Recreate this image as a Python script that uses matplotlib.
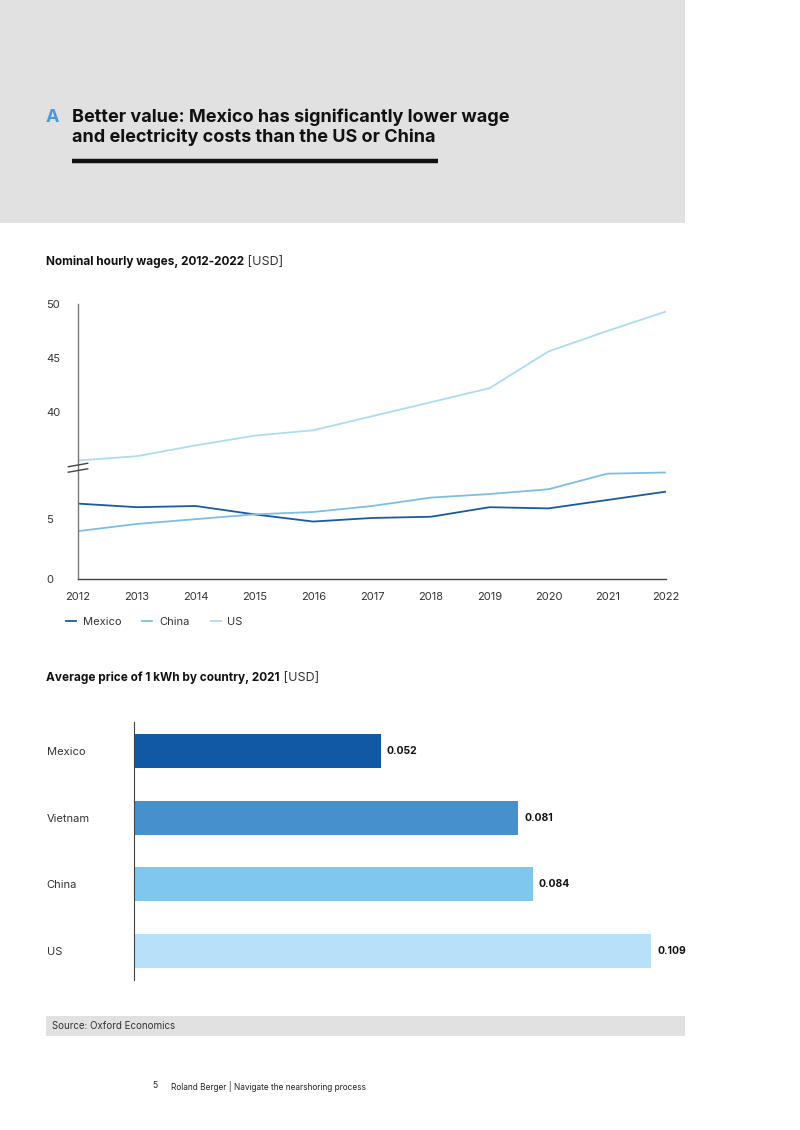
import numpy as np
import matplotlib
matplotlib.use('Agg')
import matplotlib.pyplot as plt
from matplotlib.patches import Rectangle
from matplotlib.lines import Line2D

plt.rcParams['font.family'] = ['Inter', 'DejaVu Sans']

W, H = 800, 1130

# データ: 名目時給 (USD)
years = [2012, 2013, 2014, 2015, 2016, 2017, 2018, 2019, 2020, 2021, 2022]
wage_mexico = [6.3, 6.0, 6.1, 5.4, 4.8, 5.1, 5.2, 6.0, 5.9, 6.6, 7.3]
wage_china = [4.0, 4.6, 5.0, 5.4, 5.6, 6.1, 6.8, 7.1, 7.5, 8.8, 8.9]
wage_us = [35.5, 35.9, 36.9, 37.8, 38.3, 39.6, 40.9, 42.2, 45.6, 47.5, 49.3]
wage_ticks = [0, 5, 40, 45, 50]

# データ: 1kWhあたりの平均価格 (USD, 2021)
countries = ['Mexico', 'Vietnam', 'China', 'US']
kwh_price = [0.052, 0.081, 0.084, 0.109]
bar_colors = ['#1259a5', '#4691cd', '#80c7ef', '#b6e1f8']

line_colors = {'Mexico': '#1a5a9e', 'China': '#7dbde8', 'US': '#acdcf2'}


def px(x0, y0, x1, y1):
    return [x0 / W, 1 - y1 / H, (x1 - x0) / W, (y1 - y0) / H]


def fx(x):
    return x / W


def fy(y):
    return 1 - y / H


# 途中省略の縦軸 (0-9 と 35-50)
KX = [0, 9.2, 34.75, 50]
KP = [0, 109.7, 110.0, 274.0]


def fwd(v):
    v = np.asarray(v, dtype=float)
    out = np.interp(v, KX, KP)
    out = np.where(v > KX[-1], KP[-1] + (v - KX[-1]) * 10.75, out)
    out = np.where(v < 0, v * 11.92, out)
    return out


def inv(p):
    p = np.asarray(p, dtype=float)
    out = np.interp(p, KP, KX)
    out = np.where(p > KP[-1], KX[-1] + (p - KP[-1]) / 10.75, out)
    out = np.where(p < 0, p / 11.92, out)
    return out


fig = plt.figure(figsize=(W / 100, H / 100), dpi=100)
fig.patch.set_facecolor('white')

# ヘッダー
fig.patches.append(Rectangle((0, fy(223)), fx(685), 223 / H, transform=fig.transFigure,
                             facecolor='#e1e1e1', edgecolor='none', zorder=0))
fig.text(fx(46), fy(117), 'A', color='#4a9ad6', fontsize=13, fontweight='bold', va='center')
fig.text(fx(72), fy(117), 'Better value: Mexico has significantly lower wage',
         fontsize=13, fontweight='bold', va='center', color='#111111')
fig.text(fx(72), fy(137), 'and electricity costs than the US or China',
         fontsize=13, fontweight='bold', va='center', color='#111111')
fig.lines.append(Line2D([fx(72), fx(438)], [fy(161), fy(161)], transform=fig.transFigure,
                        color='#111111', linewidth=3.2, solid_capstyle='butt'))


def subtitle(x, y, bold, normal):
    t = fig.text(fx(x), fy(y), bold, fontsize=8.5, fontweight='bold', va='center', color='#111111')
    ann = plt.annotate(' ' + normal, xy=(1, 0.5), xycoords=t, va='center', ha='left',
                       fontsize=9, color='#333333', annotation_clip=False)
    return t, ann


# 折れ線グラフ
ax = fig.add_axes(px(78, 304, 666, 579))
subtitle(46, 262, 'Nominal hourly wages, 2012-2022', '[USD]')
ax.set_yscale('function', functions=(fwd, inv))
ax.plot(years, wage_mexico, color=line_colors['Mexico'], linewidth=1.3, label='Mexico')
ax.plot(years, wage_china, color=line_colors['China'], linewidth=1.3, label='China')
ax.plot(years, wage_us, color=line_colors['US'], linewidth=1.3, label='US')
ax.set_xlim(2012, 2022)
ax.set_ylim(0, 50)
ax.set_xticks(years)
ax.set_yticks(wage_ticks)
ax.set_yticklabels([str(t) for t in wage_ticks], ha='left')
ax.tick_params(axis='y', length=0, pad=23, labelsize=8, labelcolor='#333333')
ax.tick_params(axis='x', length=0, pad=9, labelsize=8, labelcolor='#333333')
ax.minorticks_off()
for s in ['top', 'right']:
    ax.spines[s].set_visible(False)
ax.spines['left'].set_color('#777777')
ax.spines['bottom'].set_color('#444444')
ax.spines['left'].set_linewidth(1)
ax.spines['bottom'].set_linewidth(1)

# 軸の省略記号
for dy in (-2.5, 3.0):
    fig.lines.append(Line2D([fx(68.3), fx(87.7)], [fy(467.5 + dy + 1.7), fy(467.5 + dy - 1.7)],
                            transform=fig.transFigure, color='#444444', linewidth=1))

leg = fig.legend(loc='center left', bbox_to_anchor=(fx(66), fy(622)), ncol=3, frameon=False,
                 fontsize=8, handlelength=0.9, handletextpad=0.6, columnspacing=1.9,
                 borderpad=0, borderaxespad=0)
for txt in leg.get_texts():
    txt.set_color('#333333')

# 棒グラフ
subtitle(46, 678, 'Average price of 1 kWh by country, 2021', '[USD]')
bx = fig.add_axes(px(134, 722, 685, 980))
pos = np.arange(len(countries))
bars = bx.barh(pos, kwh_price, height=0.51, color=bar_colors)
bx.set_ylim(len(countries) - 1 + 0.435, -0.435)
bx.set_xlim(0, (685 - 134) / 4745)
bx.set_yticks(pos)
bx.set_yticklabels(countries, ha='left')
bx.tick_params(axis='y', length=0, pad=63, labelsize=8, labelcolor='#333333')
bx.set_xticks([])
for s in ['top', 'right', 'bottom']:
    bx.spines[s].set_visible(False)
bx.spines['left'].set_color('#444444')
for b, v in zip(bars, kwh_price):
    bx.annotate(f'{v:.3f}', xy=(v, b.get_y() + b.get_height() / 2), xytext=(4.5, 0),
                textcoords='offset points', va='center', ha='left', fontsize=7.5,
                fontweight='bold', color='#111111')

# 出典
fig.patches.append(Rectangle((fx(46), fy(1036)), fx(685) - fx(46), 20 / H, transform=fig.transFigure,
                             facecolor='#e1e1e1', edgecolor='none', zorder=0))
fig.text(fx(52), fy(1026), 'Source: Oxford Economics', fontsize=7, va='center', color='#333333')

# フッター
fig.text(fx(152), fy(1086), '5', fontsize=6.2, va='center', color='#222222')
fig.text(fx(171), fy(1086), 'Roland Berger | Navigate the nearshoring process', fontsize=6.0,
         va='center', color='#222222')

fig.savefig('out.png', dpi=100)
